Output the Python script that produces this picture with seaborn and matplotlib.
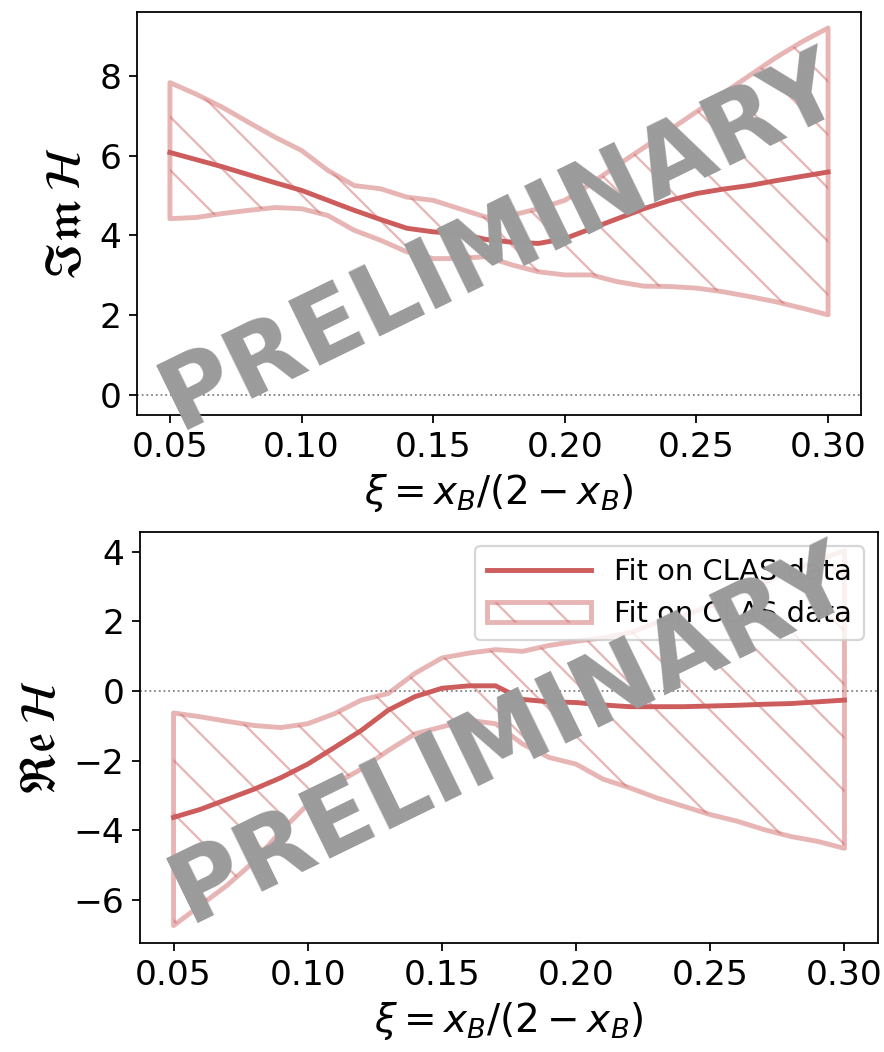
import numpy as np
import pandas as pd
import matplotlib
matplotlib.use("Agg")
import matplotlib.pyplot as plt
import seaborn as sns

# ---------------- data ----------------
xi = [0.05, 0.06, 0.07, 0.08, 0.09, 0.10, 0.11, 0.12, 0.13, 0.14, 0.15, 0.16, 0.17,
      0.18, 0.19, 0.20, 0.21, 0.22, 0.23, 0.24, 0.25, 0.26, 0.27, 0.28, 0.29, 0.30]

im_mid = [6.08, 5.90, 5.72, 5.52, 5.32, 5.13, 4.88, 4.63, 4.40, 4.18, 4.09, 4.05, 3.90,
          3.83, 3.80, 3.92, 4.17, 4.42, 4.67, 4.88, 5.05, 5.16, 5.25, 5.37, 5.48, 5.59]
im_up = [7.83, 7.54, 7.21, 6.83, 6.46, 6.13, 5.63, 5.25, 5.17, 4.96, 4.88, 4.67, 4.46,
         4.51, 4.67, 4.88, 5.30, 5.76, 6.20, 6.65, 7.10, 7.55, 8.00, 8.45, 8.85, 9.20]
im_lo = [4.42, 4.45, 4.55, 4.63, 4.70, 4.67, 4.50, 4.13, 3.88, 3.59, 3.42, 3.42, 3.47,
         3.26, 3.09, 3.01, 3.01, 2.84, 2.73, 2.72, 2.68, 2.59, 2.47, 2.34, 2.18, 2.01]

re_mid = [-3.63, -3.40, -3.11, -2.82, -2.49, -2.10, -1.62, -1.13, -0.55, -0.16, 0.08, 0.15, 0.15,
          -0.24, -0.31, -0.33, -0.40, -0.45, -0.45, -0.45, -0.43, -0.41, -0.38, -0.36, -0.31, -0.26]
re_up = [-0.63, -0.74, -0.87, -0.99, -1.05, -0.94, -0.65, -0.26, -0.07, 0.51, 0.95, 1.09, 1.19,
         1.14, 1.31, 1.43, 1.53, 1.67, 1.96, 2.16, 2.45, 2.79, 3.12, 3.46, 3.75, 4.04]
re_lo = [-6.74, -6.16, -5.58, -4.90, -4.03, -3.26, -2.68, -2.24, -1.71, -1.23, -1.03, -0.84, -0.94,
         -1.52, -1.91, -2.10, -2.53, -2.78, -3.07, -3.31, -3.55, -3.74, -3.98, -4.18, -4.32, -4.52]

x_ticks = [0.05, 0.10, 0.15, 0.20, 0.25, 0.30]
im_yticks = [0, 2, 4, 6, 8]
re_yticks = [-6, -4, -2, 0, 2, 4]
label = "Fit on CLAS data"
color = "indianred"

# ---------------- figure ----------------
DPI = 160
fig = plt.figure(figsize=(884 / DPI, 1052 / DPI), dpi=DPI)
W, H = 884, 1052

def px_axes(l, t, r, b):
    return fig.add_axes([l / W, 1 - b / H, (r - l) / W, (b - t) / H])

ax1 = px_axes(137, 12, 861, 415)
ax2 = px_axes(140, 532, 878, 943)

df_im = pd.DataFrame({"xi": xi, "mid": im_mid, "up": im_up, "lo": im_lo})
df_re = pd.DataFrame({"xi": xi, "mid": re_mid, "up": re_up, "lo": re_lo})

for ax, df, yt, ylab, wpos in [
        (ax1, df_im, im_yticks, r"$\mathfrak{Im}\,\mathcal{H}$", (0.503, 0.43)),
        (ax2, df_re, re_yticks, r"$\mathfrak{Re}\,\mathcal{H}$", (0.503, 0.506))]:
    ax.axhline(0, color="gray", lw=0.8, ls=":", zorder=1)
    sns.lineplot(data=df, x="xi", y="mid", ax=ax, color=color, lw=2.2, label=label,
                 zorder=3)
    ax.fill_between(df["xi"], df["lo"], df["up"], facecolor="none", edgecolor=color,
                    hatch="\\", lw=2.2, alpha=0.45, label=label, zorder=2)
    ax.set_xticks(x_ticks)
    ax.set_yticks(yt)
    ax.tick_params(labelsize=15.5)
    ax.set_xlabel(r"$\xi = x_B/(2 - x_B)$", fontsize=17.5)
    ax.set_ylabel(ylab, fontsize=22)
    ax.text(wpos[0], wpos[1], "PRELIMINARY", transform=ax.transAxes, rotation=26,
            ha="center", va="center", fontsize=44, fontweight="bold",
            color="#9b9b9b", zorder=10)

ax1.set_xlim(0.0375, 0.3125)
ax2.set_xlim(0.0375, 0.3125)
ax1.set_ylim(-0.5, 9.6)
ax2.set_ylim(-7.24, 4.57)

if ax1.get_legend():
    ax1.get_legend().remove()
ax2.legend(loc="upper right", fontsize=13, handlelength=3.6)

fig.savefig("out.png", dpi=DPI)
